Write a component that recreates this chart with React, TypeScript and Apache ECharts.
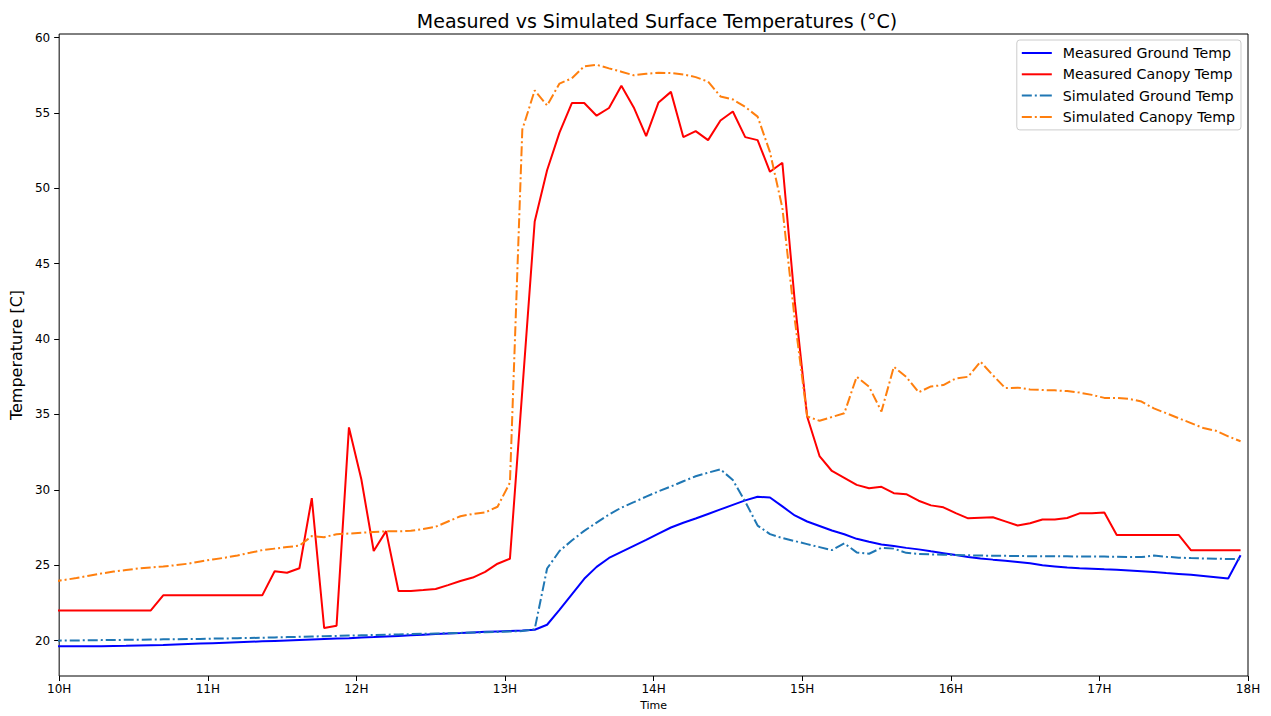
import React, { useEffect, useRef } from 'react';
import * as echarts from 'echarts';

const times = [
  '09:57', '10:02', '10:07', '10:12', '10:17', '10:22', '10:27', '10:32', '10:37', '10:42',
  '10:47', '10:52', '10:57', '11:02', '11:07', '11:12', '11:17', '11:22', '11:27', '11:32',
  '11:37', '11:42', '11:47', '11:52', '11:57', '12:02', '12:07', '12:12', '12:17', '12:22',
  '12:27', '12:32', '12:37', '12:42', '12:47', '12:52', '12:57', '13:02', '13:07', '13:12',
  '13:17', '13:22', '13:27', '13:32', '13:37', '13:42', '13:47', '13:52', '13:57', '14:02',
  '14:07', '14:12', '14:17', '14:22', '14:27', '14:32', '14:37', '14:42', '14:47', '14:52',
  '14:57', '15:02', '15:07', '15:12', '15:17', '15:22', '15:27', '15:32', '15:37', '15:42',
  '15:47', '15:52', '15:57', '16:02', '16:07', '16:12', '16:17', '16:22', '16:27', '16:32',
  '16:37', '16:42', '16:47', '16:52', '16:57', '17:02', '17:07', '17:12', '17:17', '17:22',
  '17:27', '17:32', '17:37', '17:42', '17:47', '17:52', '17:57',
];

const measuredGround = [
  19.62, 19.62, 19.62, 19.63, 19.63, 19.64, 19.65, 19.67, 19.69, 19.71,
  19.74, 19.77, 19.8, 19.83, 19.86, 19.89, 19.92, 19.95, 19.98, 20.01,
  20.04, 20.07, 20.1, 20.13, 20.16, 20.2, 20.23, 20.27, 20.31, 20.35,
  20.39, 20.43, 20.47, 20.5, 20.54, 20.58, 20.61, 20.64, 20.67, 20.72,
  21.05, 22.04, 23.07, 24.1, 24.89, 25.48, 25.88, 26.28, 26.68, 27.1,
  27.5, 27.82, 28.1, 28.4, 28.7, 29.0, 29.3, 29.54, 29.49, 28.9,
  28.3, 27.9, 27.6, 27.3, 27.05, 26.75, 26.55, 26.38, 26.27, 26.15,
  26.05, 25.92, 25.8, 25.67, 25.55, 25.45, 25.37, 25.3, 25.22, 25.13,
  25.0, 24.92, 24.84, 24.8, 24.77, 24.73, 24.7, 24.65, 24.6, 24.55,
  24.48, 24.42, 24.36, 24.28, 24.2, 24.12, 25.66,
];

const measuredCanopy = [
  22.0, 22.0, 22.0, 22.0, 22.0, 22.0, 22.0, 22.0, 22.0, 23.0,
  23.0, 23.0, 23.0, 23.0, 23.0, 23.0, 23.0, 23.0, 24.6, 24.5,
  24.8, 29.45, 20.83, 20.99, 34.14, 30.7, 25.94, 27.26, 23.29, 23.29,
  23.35, 23.42, 23.68, 23.95, 24.18, 24.56, 25.1, 25.43, 36.6, 47.8,
  51.2, 53.7, 55.66, 55.66, 54.82, 55.33, 56.8, 55.37, 53.46, 55.7,
  56.4, 53.4, 53.8, 53.2, 54.5, 55.1, 53.4, 53.2, 51.1, 51.7,
  42.5, 34.87, 32.24, 31.25, 30.8, 30.33, 30.1, 30.2, 29.78, 29.71,
  29.28, 28.97, 28.84, 28.46, 28.11, 28.15, 28.18, 27.91, 27.63, 27.78,
  28.03, 28.03, 28.13, 28.44, 28.44, 28.5, 27.01, 27.01, 27.01, 27.01,
  27.01, 27.01, 25.99, 25.99, 25.99, 25.99, 25.99,
];

const simulatedGround = [
  19.99, 20.0, 20.01, 20.02, 20.03, 20.04, 20.05, 20.06, 20.07, 20.08,
  20.09, 20.1, 20.11, 20.13, 20.14, 20.16, 20.17, 20.19, 20.21, 20.23,
  20.25, 20.27, 20.29, 20.31, 20.33, 20.35, 20.37, 20.39, 20.41, 20.43,
  20.45, 20.47, 20.49, 20.51, 20.53, 20.55, 20.57, 20.6, 20.63, 20.76,
  24.78, 25.94, 26.64, 27.28, 27.83, 28.36, 28.82, 29.18, 29.55, 29.9,
  30.22, 30.57, 30.9, 31.14, 31.36, 30.65, 29.22, 27.63, 27.06, 26.8,
  26.6, 26.4, 26.2, 26.0, 26.45, 25.85, 25.76, 26.15, 26.1, 25.82,
  25.75, 25.72, 25.7, 25.68, 25.66, 25.64, 25.63, 25.62, 25.61, 25.6,
  25.6, 25.6, 25.59, 25.58, 25.58, 25.57, 25.56, 25.55, 25.54, 25.64,
  25.56, 25.5, 25.47, 25.45, 25.43, 25.41, 25.4,
];

const simulatedCanopy = [
  23.9, 24.02, 24.15, 24.3, 24.45, 24.58, 24.68, 24.78, 24.85, 24.92,
  25.0, 25.1, 25.25, 25.38, 25.5, 25.65, 25.82, 26.0, 26.1, 26.2,
  26.3, 26.93, 26.86, 27.06, 27.1, 27.15, 27.2, 27.25, 27.25, 27.28,
  27.4, 27.55, 27.9, 28.25, 28.4, 28.5, 28.88, 30.48, 53.9, 56.5,
  55.5, 56.95, 57.3, 58.1, 58.2, 57.96, 57.74, 57.5, 57.6, 57.67,
  57.65, 57.56, 57.38, 57.08, 56.1, 55.9, 55.4, 54.76, 52.4, 48.7,
  41.3, 34.87, 34.58, 34.83, 35.08, 37.5, 36.84, 35.2, 38.16, 37.5,
  36.47, 36.86, 36.95, 37.39, 37.5, 38.5, 37.6, 36.75, 36.78, 36.66,
  36.62, 36.6, 36.55, 36.45, 36.3, 36.1, 36.1, 36.03, 35.86, 35.4,
  35.08, 34.75, 34.43, 34.1, 33.92, 33.55, 33.22,
];

const yTicks = [20, 25, 30, 35, 40, 45, 50, 55, 60];
const seriesNames = [
  'Measured Ground Temp',
  'Measured Canopy Temp',
  'Simulated Ground Temp',
  'Simulated Canopy Temp',
];

const toHours = (s: string) => {
  const [h, m] = s.split(':').map(Number);
  return h + m / 60;
};

const FONT = 'DejaVu Sans';
const SOLID_ICON = 'path://M0,0H30V2H0Z';
const DASHDOT_ICON = 'path://M0,0H10V2H0Z M13,0H15V2H13Z M18,0H30V2H18Z';

export default function App() {
  const ref = useRef<HTMLDivElement>(null);

  useEffect(() => {
    document.body.style.margin = '0';
    const chart = echarts.init(ref.current!, null, { renderer: 'svg' });
    const xs = times.map(toHours);
    const pairs = (vals: number[]) => xs.map((x, i) => [x, vals[i]]);
    const dashDot = [10, 3, 2, 3];

    chart.setOption({
      animation: false,
      backgroundColor: '#fff',
      title: {
        text: 'Measured vs Simulated Surface Temperatures (°C)',
        left: 652,
        textAlign: 'center',
        top: 6,
        textStyle: { fontFamily: FONT, fontSize: 19, fontWeight: 'normal', color: '#000' },
      },
      legend: {
        orient: 'vertical',
        right: 30,
        top: 40,
        padding: [6, 6, 6, 5],
        itemGap: 7.3,
        itemWidth: 30,
        itemHeight: 14,
        borderColor: '#cccccc',
        borderWidth: 1,
        borderRadius: 3,
        backgroundColor: 'rgba(255,255,255,0.8)',
        textStyle: { fontFamily: FONT, fontSize: 14.2, color: '#000', lineHeight: 14, padding: [0, 0, 0, 6] },
        data: [
          { name: seriesNames[0], icon: SOLID_ICON },
          { name: seriesNames[1], icon: SOLID_ICON },
          { name: seriesNames[2], icon: DASHDOT_ICON },
          { name: seriesNames[3], icon: DASHDOT_ICON },
        ],
      },
      grid: {
        left: 56,
        right: 23,
        top: 34,
        bottom: 36,
        show: true,
        borderColor: '#000',
        borderWidth: 1,
        backgroundColor: 'transparent',
      },
      xAxis: {
        type: 'value',
        min: 10,
        max: 18,
        interval: 1,
        name: 'Time',
        nameLocation: 'middle',
        nameGap: 24,
        nameTextStyle: { fontFamily: FONT, fontSize: 11, color: '#000' },
        axisLine: { show: false },
        axisTick: { show: true, length: 5, lineStyle: { color: '#000' } },
        axisLabel: {
          margin: 7,
          fontFamily: FONT,
          fontSize: 12,
          color: '#000',
          formatter: (v: number) => `${v}H`,
        },
        splitLine: { show: false },
      },
      yAxis: {
        type: 'value',
        min: 17.65,
        max: 60.24,
        name: 'Temperature [C]',
        nameLocation: 'middle',
        nameGap: 31,
        nameTextStyle: { fontFamily: FONT, fontSize: 16, color: '#000' },
        axisLine: { show: false },
        axisTick: { show: true, length: 5, customValues: yTicks, lineStyle: { color: '#000' } },
        axisLabel: {
          margin: 9,
          fontFamily: FONT,
          fontSize: 12,
          color: '#000',
          customValues: yTicks,
        },
        splitLine: { show: false },
      },
      series: [
        {
          name: seriesNames[0],
          type: 'line',
          data: pairs(measuredGround),
          symbol: 'none',
          color: '#0000ff',
          lineStyle: { color: '#0000ff', width: 2 },
        },
        {
          name: seriesNames[1],
          type: 'line',
          data: pairs(measuredCanopy),
          symbol: 'none',
          color: '#ff0000',
          lineStyle: { color: '#ff0000', width: 2 },
        },
        {
          name: seriesNames[2],
          type: 'line',
          data: pairs(simulatedGround),
          symbol: 'none',
          color: '#1f77b4',
          lineStyle: { color: '#1f77b4', width: 2, type: dashDot },
        },
        {
          name: seriesNames[3],
          type: 'line',
          data: pairs(simulatedCanopy),
          symbol: 'none',
          color: '#ff7f0e',
          lineStyle: { color: '#ff7f0e', width: 2, type: dashDot },
        },
      ],
    });

    return () => chart.dispose();
  }, []);

  return <div ref={ref} style={{ width: 1271, height: 716 }} />;
}
